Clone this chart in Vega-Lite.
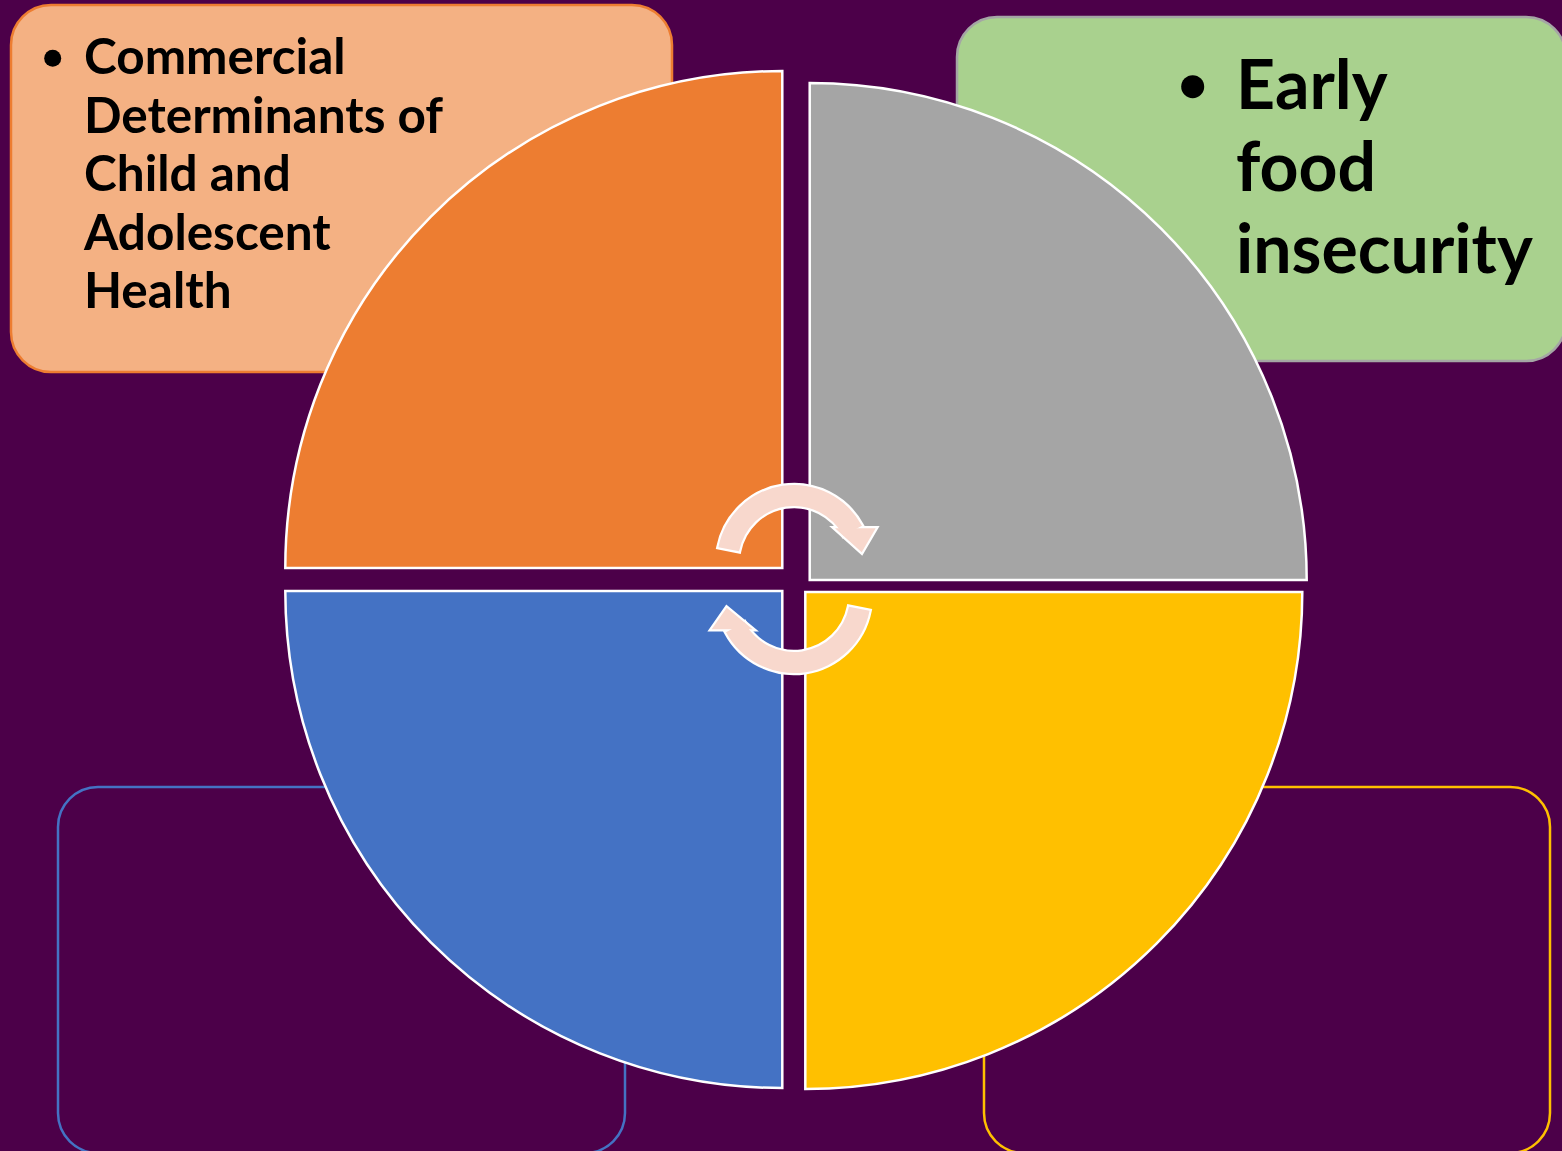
{
  "$schema": "https://vega.github.io/schema/vega-lite/v6.json",
  "width": 1562,
  "height": 1151,
  "padding": 0,
  "autosize": {"type": "none"},
  "background": "#4C0049",
  "config": {"view": {"stroke": null}},
  "datasets": {
    "boxes": [
      {"box": "commercial", "x0": 11, "x1": 672, "y0": 5, "y1": 372},
      {"box": "food", "x0": 957, "x1": 1566, "y0": 17, "y1": 361},
      {"box": "lowerLeft", "x0": 58, "x1": 625, "y0": 787, "y1": 1153},
      {"box": "lowerRight", "x0": 984, "x1": 1550, "y0": 787, "y1": 1153}
    ],
    "quarters": [
      {"q": "orange", "cx": 782.3, "cy": 568, "r": 497, "t0": 270, "t1": 360},
      {"q": "gray", "cx": 809.7, "cy": 580, "r": 497, "t0": 0, "t1": 90},
      {"q": "yellow", "cx": 805.3, "cy": 592, "r": 497, "t0": 90, "t1": 180},
      {"q": "blue", "cx": 782.3, "cy": 591, "r": 497, "t0": 180, "t1": 270}
    ],
    "shafts": [
      {"arrow": "upper", "cx": 794, "cy": 562, "ro": 77, "ri": 56, "t0": -79, "t1": 62},
      {"arrow": "lower", "cx": 794, "cy": 596, "ro": 77, "ri": 56, "t0": 101, "t1": 242}
    ],
    "heads": [
      {"arrow": "upper", "hx": 835, "top": 528.3, "bottom": 528.3},
      {"arrow": "upper", "hx": 861.7, "top": 528.3, "bottom": 552.3},
      {"arrow": "upper", "hx": 875.7, "top": 528.3, "bottom": 528.3},
      {"arrow": "lower", "hx": 711.7, "top": 629.3, "bottom": 629.3},
      {"arrow": "lower", "hx": 726.7, "top": 607.7, "bottom": 629.3},
      {"arrow": "lower", "hx": 752.7, "top": 629.3, "bottom": 629.3}
    ],
    "bullets": [
      {"bx": 52.7, "by": 58.3, "d": 17},
      {"bx": 1192.7, "by": 86.7, "d": 23}
    ],
    "smallText": [
      {"label": "Commercial\nDeterminants of\nChild and\nAdolescent\nHealth", "tx": 84, "ty": 74}
    ],
    "largeText": [
      {"label": "Early\nfood\ninsecurity", "tx": 1236, "ty": 109.3}
    ]
  },
  "layer": [
    {
      "data": {"name": "boxes"},
      "mark": {"type": "rect", "cornerRadius": 40, "strokeWidth": 2.5},
      "encoding": {
        "x": {"field": "x0", "type": "quantitative", "scale": {"domain": [0, 1562], "range": [0, 1562]}, "axis": null},
        "x2": {"field": "x1"},
        "y": {"field": "y0", "type": "quantitative", "scale": {"domain": [0, 1151], "range": [0, 1151]}, "axis": null},
        "y2": {"field": "y1"},
        "fill": {"field": "box", "type": "nominal", "legend": null,
          "scale": {"domain": ["commercial", "food", "lowerLeft", "lowerRight"], "range": ["#F4B183", "#A9D18E", "#4C0049", "#4C0049"]}},
        "stroke": {"field": "box", "type": "nominal", "legend": null,
          "scale": {"domain": ["commercial", "food", "lowerLeft", "lowerRight"], "range": ["#ED7D31", "#A5A5A5", "#4472C4", "#FFC000"]}}
      }
    },
    {
      "data": {"name": "quarters"},
      "mark": {"type": "arc", "stroke": "#FFFFFF", "strokeWidth": 2.5},
      "encoding": {
        "x": {"field": "cx", "type": "quantitative", "scale": {"domain": [0, 1562], "range": [0, 1562]}, "axis": null},
        "y": {"field": "cy", "type": "quantitative", "scale": {"domain": [0, 1151], "range": [0, 1151]}, "axis": null},
        "theta": {"field": "t0", "type": "quantitative", "stack": null, "scale": {"domain": [0, 360], "range": [0, 6.283185307179586]}},
        "theta2": {"field": "t1"},
        "radius": {"field": "r", "type": "quantitative", "scale": {"type": "linear", "zero": true, "domain": [0, 1000], "range": [0, 1000]}},
        "fill": {"field": "q", "type": "nominal", "legend": null,
          "scale": {"domain": ["orange", "gray", "yellow", "blue"], "range": ["#ED7D31", "#A5A5A5", "#FFC000", "#4472C4"]}}
      }
    },
    {
      "data": {"name": "shafts"},
      "mark": {"type": "arc", "fill": "#F8D8CD", "stroke": "#FFFFFF", "strokeWidth": 4.5},
      "encoding": {
        "x": {"field": "cx", "type": "quantitative", "scale": {"domain": [0, 1562], "range": [0, 1562]}, "axis": null},
        "y": {"field": "cy", "type": "quantitative", "scale": {"domain": [0, 1151], "range": [0, 1151]}, "axis": null},
        "theta": {"field": "t0", "type": "quantitative", "stack": null, "scale": {"domain": [0, 360], "range": [0, 6.283185307179586]}},
        "theta2": {"field": "t1"},
        "radius": {"field": "ro", "type": "quantitative", "scale": {"type": "linear", "zero": true, "domain": [0, 1000], "range": [0, 1000]}},
        "radius2": {"field": "ri"}
      }
    },
    {
      "data": {"name": "heads"},
      "mark": {"type": "area", "orient": "vertical", "fill": "#F8D8CD", "stroke": "#FFFFFF", "strokeWidth": 4.5, "strokeJoin": "miter"},
      "encoding": {
        "x": {"field": "hx", "type": "quantitative", "scale": {"domain": [0, 1562], "range": [0, 1562]}, "axis": null},
        "y": {"field": "top", "type": "quantitative", "scale": {"domain": [0, 1151], "range": [0, 1151]}, "axis": null},
        "y2": {"field": "bottom"},
        "detail": {"field": "arrow", "type": "nominal"}
      }
    },
    {
      "data": {"name": "shafts"},
      "mark": {"type": "arc", "fill": "#F8D8CD"},
      "encoding": {
        "x": {"field": "cx", "type": "quantitative", "scale": {"domain": [0, 1562], "range": [0, 1562]}, "axis": null},
        "y": {"field": "cy", "type": "quantitative", "scale": {"domain": [0, 1151], "range": [0, 1151]}, "axis": null},
        "theta": {"field": "t0", "type": "quantitative", "stack": null, "scale": {"domain": [0, 360], "range": [0, 6.283185307179586]}},
        "theta2": {"field": "t1"},
        "radius": {"field": "ro", "type": "quantitative", "scale": {"type": "linear", "zero": true, "domain": [0, 1000], "range": [0, 1000]}},
        "radius2": {"field": "ri"}
      }
    },
    {
      "data": {"name": "heads"},
      "mark": {"type": "area", "orient": "vertical", "fill": "#F8D8CD"},
      "encoding": {
        "x": {"field": "hx", "type": "quantitative", "scale": {"domain": [0, 1562], "range": [0, 1562]}, "axis": null},
        "y": {"field": "top", "type": "quantitative", "scale": {"domain": [0, 1151], "range": [0, 1151]}, "axis": null},
        "y2": {"field": "bottom"},
        "detail": {"field": "arrow", "type": "nominal"}
      }
    },
    {
      "data": {"name": "bullets"},
      "mark": {"type": "point", "shape": "circle", "filled": true, "fill": "#000000", "opacity": 1, "strokeWidth": 0},
      "encoding": {
        "x": {"field": "bx", "type": "quantitative", "scale": {"domain": [0, 1562], "range": [0, 1562]}, "axis": null},
        "y": {"field": "by", "type": "quantitative", "scale": {"domain": [0, 1151], "range": [0, 1151]}, "axis": null},
        "size": {"field": "d", "type": "quantitative", "legend": null, "scale": {"type": "pow", "exponent": 2, "domain": [0, 100], "range": [0, 10000]}}
      }
    },
    {
      "data": {"name": "smallText"},
      "mark": {"type": "text", "align": "left", "baseline": "alphabetic", "font": "Lato", "fontWeight": "bold", "fontSize": 49.5, "lineBreak": "\n", "lineHeight": 58.6, "fill": "#000000"},
      "encoding": {
        "x": {"field": "tx", "type": "quantitative", "scale": {"domain": [0, 1562], "range": [0, 1562]}, "axis": null},
        "y": {"field": "ty", "type": "quantitative", "scale": {"domain": [0, 1151], "range": [0, 1151]}, "axis": null},
        "text": {"field": "label"}
      }
    },
    {
      "data": {"name": "largeText"},
      "mark": {"type": "text", "align": "left", "baseline": "alphabetic", "font": "Lato", "fontWeight": "bold", "fontSize": 68, "lineBreak": "\n", "lineHeight": 82, "fill": "#000000"},
      "encoding": {
        "x": {"field": "tx", "type": "quantitative", "scale": {"domain": [0, 1562], "range": [0, 1562]}, "axis": null},
        "y": {"field": "ty", "type": "quantitative", "scale": {"domain": [0, 1151], "range": [0, 1151]}, "axis": null},
        "text": {"field": "label"}
      }
    }
  ],
  "resolve": {"scale": {"fill": "independent", "stroke": "independent"}}
}
